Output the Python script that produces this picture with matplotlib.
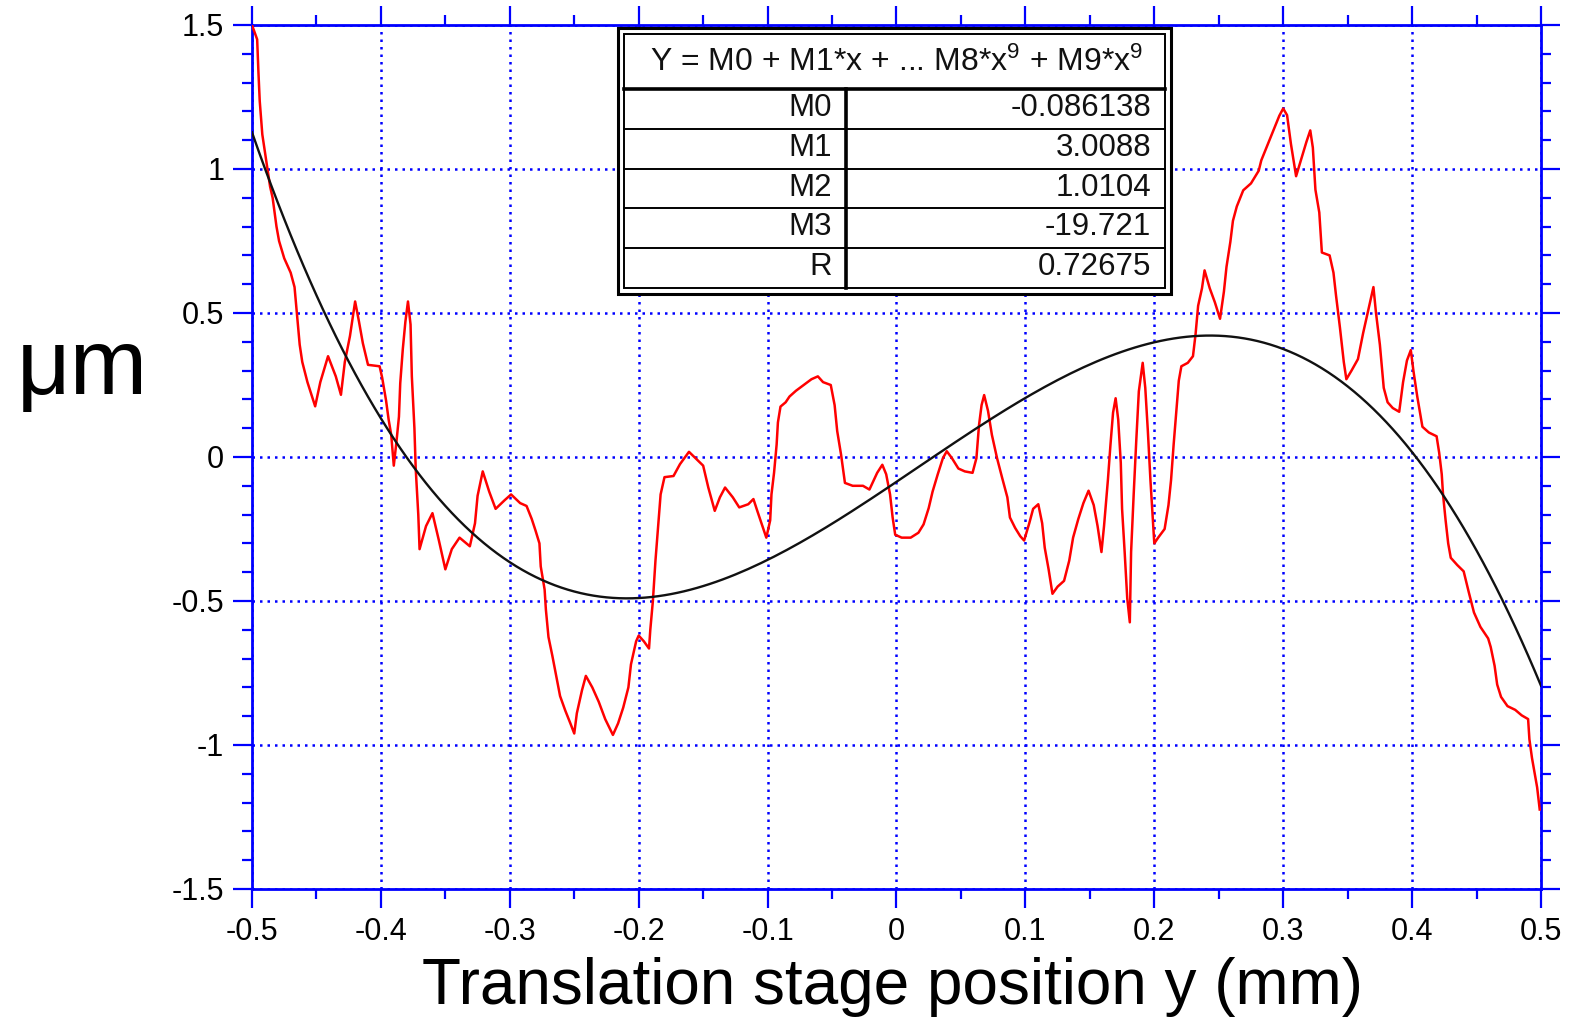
import numpy as np
import matplotlib
matplotlib.use("Agg")
import matplotlib.pyplot as plt
from matplotlib.ticker import MultipleLocator, FixedLocator, FixedFormatter
from matplotlib.patches import Rectangle

plt.rcParams['font.family'] = ['Liberation Sans', 'DejaVu Sans']
plt.rcParams['axes.unicode_minus'] = False
plt.rcParams['mathtext.fontset'] = 'custom'
plt.rcParams['mathtext.rm'] = 'Liberation Sans'
plt.rcParams['mathtext.it'] = 'Liberation Sans'

# measured profile (mm, um)
pos = [-0.500, -0.496, -0.495, -0.494, -0.492, -0.489, -0.486, -0.484, -0.481, -0.479,
       -0.475, -0.470, -0.467, -0.465, -0.463, -0.461, -0.457, -0.451, -0.447, -0.441,
       -0.435, -0.431, -0.428, -0.424, -0.420, -0.417, -0.414, -0.410, -0.401, -0.399,
       -0.396, -0.394, -0.392, -0.390, -0.388, -0.386, -0.385, -0.383, -0.381, -0.379,
       -0.377, -0.376, -0.374, -0.373, -0.371, -0.370, -0.365, -0.360, -0.355, -0.350,
       -0.345, -0.339, -0.331, -0.327, -0.325, -0.321, -0.316, -0.311, -0.304, -0.299,
       -0.292, -0.287, -0.283, -0.280, -0.277, -0.276, -0.273, -0.272, -0.270, -0.267,
       -0.264, -0.261, -0.257, -0.253, -0.250, -0.248, -0.244, -0.241, -0.236, -0.231,
       -0.226, -0.220, -0.216, -0.212, -0.208, -0.206, -0.202, -0.200, -0.196, -0.192,
       -0.191, -0.189, -0.187, -0.185, -0.183, -0.180, -0.173, -0.168, -0.161, -0.155,
       -0.150, -0.146, -0.141, -0.137, -0.133, -0.127, -0.122, -0.115, -0.111, -0.108,
       -0.104, -0.101, -0.098, -0.097, -0.095, -0.093, -0.092, -0.090, -0.086, -0.083,
       -0.078, -0.072, -0.066, -0.061, -0.057, -0.051, -0.048, -0.046, -0.043, -0.040,
       -0.034, -0.026, -0.021, -0.015, -0.011, -0.008, -0.005, -0.003, -0.001, 0.004,
       0.011, 0.017, 0.021, 0.025, 0.028, 0.032, 0.036, 0.039, 0.043, 0.048,
       0.053, 0.059, 0.062, 0.064, 0.066, 0.068, 0.071, 0.074, 0.078, 0.082,
       0.086, 0.088, 0.092, 0.096, 0.099, 0.103, 0.106, 0.110, 0.113, 0.115,
       0.118, 0.121, 0.125, 0.130, 0.134, 0.137, 0.141, 0.145, 0.149, 0.153,
       0.156, 0.159, 0.161, 0.164, 0.166, 0.168, 0.170, 0.172, 0.174, 0.175,
       0.177, 0.179, 0.181, 0.182, 0.184, 0.186, 0.188, 0.191, 0.193, 0.195,
       0.197, 0.199, 0.200, 0.203, 0.208, 0.211, 0.213, 0.215, 0.217, 0.219,
       0.221, 0.226, 0.230, 0.232, 0.234, 0.237, 0.239, 0.243, 0.247, 0.251,
       0.254, 0.256, 0.259, 0.261, 0.264, 0.269, 0.275, 0.281, 0.283, 0.287,
       0.292, 0.297, 0.300, 0.303, 0.306, 0.310, 0.314, 0.318, 0.321, 0.323,
       0.325, 0.328, 0.330, 0.336, 0.339, 0.341, 0.344, 0.347, 0.349, 0.353,
       0.358, 0.362, 0.366, 0.370, 0.372, 0.375, 0.378, 0.381, 0.385, 0.390,
       0.393, 0.396, 0.399, 0.401, 0.404, 0.408, 0.413, 0.419, 0.421, 0.423,
       0.424, 0.426, 0.428, 0.430, 0.435, 0.440, 0.444, 0.448, 0.453, 0.459,
       0.461, 0.464, 0.466, 0.469, 0.474, 0.480, 0.485, 0.490, 0.491, 0.493,
       0.495, 0.497, 0.499]
height = [1.50, 1.45, 1.335, 1.236, 1.12, 1.03, 0.94, 0.90, 0.80, 0.75,
          0.69, 0.64, 0.59, 0.49, 0.39, 0.33, 0.26, 0.176, 0.26, 0.35,
          0.28, 0.216, 0.33, 0.42, 0.54, 0.47, 0.395, 0.32, 0.315, 0.275,
          0.196, 0.13, 0.077, -0.03, 0.05, 0.14, 0.256, 0.375, 0.47, 0.54,
          0.46, 0.28, 0.10, -0.04, -0.20, -0.32, -0.24, -0.195, -0.29, -0.39,
          -0.32, -0.28, -0.31, -0.23, -0.135, -0.05, -0.12, -0.18, -0.15, -0.13,
          -0.16, -0.17, -0.215, -0.256, -0.30, -0.38, -0.46, -0.53, -0.625, -0.69,
          -0.76, -0.83, -0.88, -0.925, -0.96, -0.89, -0.81, -0.76, -0.80, -0.85,
          -0.91, -0.965, -0.925, -0.87, -0.80, -0.72, -0.64, -0.62, -0.64, -0.665,
          -0.60, -0.50, -0.36, -0.245, -0.13, -0.07, -0.066, -0.025, 0.018, -0.008,
          -0.03, -0.106, -0.187, -0.14, -0.106, -0.14, -0.175, -0.164, -0.146, -0.187,
          -0.24, -0.28, -0.22, -0.13, -0.055, 0.043, 0.12, 0.175, 0.19, 0.21,
          0.23, 0.25, 0.27, 0.28, 0.26, 0.25, 0.18, 0.09, 0.008, -0.09,
          -0.10, -0.10, -0.113, -0.055, -0.027, -0.06, -0.13, -0.21, -0.27, -0.28,
          -0.28, -0.263, -0.234, -0.177, -0.12, -0.06, -0.004, 0.02, -0.004, -0.04,
          -0.05, -0.055, -0.004, 0.11, 0.18, 0.215, 0.16, 0.077, -0.004, -0.073,
          -0.14, -0.21, -0.246, -0.275, -0.29, -0.23, -0.18, -0.164, -0.23, -0.315,
          -0.39, -0.475, -0.45, -0.43, -0.36, -0.28, -0.216, -0.16, -0.117, -0.167,
          -0.24, -0.33, -0.24, -0.08, 0.043, 0.154, 0.204, 0.13, -0.02, -0.18,
          -0.33, -0.49, -0.574, -0.33, -0.13, 0.056, 0.228, 0.327, 0.24, 0.09,
          -0.08, -0.23, -0.30, -0.28, -0.25, -0.167, -0.08, 0.043, 0.154, 0.265,
          0.315, 0.327, 0.35, 0.426, 0.525, 0.586, 0.648, 0.586, 0.537, 0.48,
          0.574, 0.66, 0.747, 0.82, 0.87, 0.926, 0.95, 0.994, 1.03, 1.074,
          1.13, 1.185, 1.21, 1.187, 1.087, 0.975, 1.034, 1.094, 1.134, 1.074,
          0.928, 0.849, 0.71, 0.70, 0.64, 0.56, 0.45, 0.33, 0.27, 0.30,
          0.34, 0.43, 0.51, 0.59, 0.50, 0.39, 0.24, 0.19, 0.17, 0.157,
          0.26, 0.335, 0.371, 0.30, 0.21, 0.105, 0.085, 0.072, 0.015, -0.06,
          -0.13, -0.22, -0.30, -0.35, -0.375, -0.397, -0.47, -0.54, -0.59, -0.63,
          -0.66, -0.725, -0.79, -0.833, -0.865, -0.878, -0.897, -0.91, -0.98, -1.045,
          -1.096, -1.147, -1.224]

# cubic fit results
fit_names = ['M0', 'M1', 'M2', 'M3', 'R']
fit_values = ['-0.086138', '3.0088', '1.0104', '-19.721', '0.72675']

x_ticks = [-0.5, -0.4, -0.3, -0.2, -0.1, 0, 0.1, 0.2, 0.3, 0.4, 0.5]
x_labels = ['-0.5', '-0.4', '-0.3', '-0.2', '-0.1', '0', '0.1', '0.2', '0.3', '0.4', '0.5']
y_ticks = [-1.5, -1, -0.5, 0, 0.5, 1, 1.5]
y_labels = ['-1.5', '-1', '-0.5', '0', '0.5', '1', '1.5']

coef = [float(v) for v in fit_values[:4]]
xf = np.linspace(-0.5, 0.5, 201)
yf = np.polyval(coef[::-1], xf)

W, H = 1572, 1023
fig = plt.figure(figsize=(W / 100, H / 100), dpi=100)
ax = fig.add_axes([252 / W, 1 - 889 / H, 1289 / W, 864 / H])

ax.plot(pos, height, color='#ff0000', lw=1.8, zorder=3)
ax.plot(xf, yf, color='#111111', lw=1.7, zorder=4)

ax.set_xlim(-0.5, 0.5)
ax.set_ylim(-1.5, 1.5)
ax.xaxis.set_major_locator(FixedLocator(x_ticks))
ax.xaxis.set_major_formatter(FixedFormatter(x_labels))
ax.yaxis.set_major_locator(FixedLocator(y_ticks))
ax.yaxis.set_major_formatter(FixedFormatter(y_labels))
ax.xaxis.set_minor_locator(MultipleLocator(0.05))
ax.yaxis.set_minor_locator(MultipleLocator(0.1))
ax.grid(True, which='major', color='#0000ff', linestyle=(0, (1, 2.0)), linewidth=1.8, zorder=1)
ax.set_axisbelow(True)

for s in ax.spines.values():
    s.set_color('#0000ff')
    s.set_linewidth(2)
ax.tick_params(which='both', direction='out', color='#0000ff', width=1.6,
               top=True, right=True, labelcolor='black', labelsize=22)
ax.tick_params(which='major', length=14)
ax.tick_params(which='minor', length=7)
ax.tick_params(axis='x', pad=6)
ax.tick_params(axis='y', pad=6)

fig.text(893 / W, 1 - 987 / H, 'Translation stage position y (mm)',
         fontsize=46, ha='center', va='center')
fig.text(82 / W, 1 - 370 / H, 'μm', fontsize=67, ha='center', va='center')

# fit results box, drawn in figure pixel coordinates
tb = fig.add_axes([0, 0, 1, 1])
tb.set_xlim(0, W)
tb.set_ylim(H, 0)
tb.axis('off')
tb.set_zorder(5)

tb.add_patch(Rectangle((618, 28), 553, 266, facecolor='white', edgecolor='black', lw=2.2))
tb.add_patch(Rectangle((624, 34), 541, 254, facecolor='none', edgecolor='black', lw=1.4))
tb.plot([624, 1165], [89, 89], color='black', lw=2.6)
tb.plot([846, 846], [89, 288], color='black', lw=2.6)
row_top = 89
row_h = 39.8
for i in range(1, len(fit_names)):
    y = row_top + i * row_h
    tb.plot([624, 1165], [y, y], color='black', lw=1.4)

tb.text(897, 62, r'Y = M0 + M1*x + ... M8*x$^{9}$ + M9*x$^{9}$',
        fontsize=23, ha='center', va='center', color='#111111')
for i, (name, val) in enumerate(zip(fit_names, fit_values)):
    yc = row_top + (i + 0.5) * row_h - 1
    tb.text(832, yc, name, fontsize=22.5, ha='right', va='center', color='#111111')
    tb.text(1151, yc, val, fontsize=22.5, ha='right', va='center', color='#111111')

fig.savefig('out.png', dpi=100)
